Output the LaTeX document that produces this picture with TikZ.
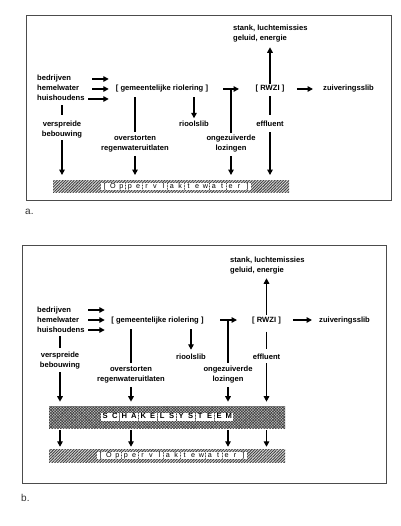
\documentclass[tikz,border=0pt]{standalone}
\usepackage{fontspec}
\setmainfont{Liberation Sans}
\usetikzlibrary{arrows.meta,patterns.meta}
\newcommand\labf{\fontsize{7.6}{10}\selectfont\bfseries}
\makeatletter
\newcommand\spellout[2]{\def\sp@w{#1}\sp@loop#2\@nil}
\def\sp@loop#1{\ifx#1\@nil\else\hbox{\fboxsep=0.6pt\colorbox{white}{\makebox[\sp@w]{\vphantom{Op}#1}}}\hskip0.3pt\expandafter\sp@loop\fi}
\makeatother
\tikzset{
  lbl/.style={font=\labf, inner sep=0pt, text height=5.5pt, text depth=1.5pt},
  lbltwo/.style={font=\labf, inner sep=0pt, align=center},
  arr/.style={line width=1.4pt, -{Triangle[length=5.5pt,width=5.5pt]}},
  ln/.style={line width=1.4pt},
  frm/.style={draw=black!70, line width=0.8pt},
  captxt/.style={font=\fontsize{10}{12}\selectfont, text=black!80, inner sep=0pt},
  oppbar/.style={minimum width=236pt, minimum height=12pt, inner sep=0pt,
    preaction={fill=gray!25},
    pattern={Lines[angle=45,distance=2pt,line width=0.9pt]}, pattern color=black!75,
    font=\fontsize{7.2}{8}\selectfont},
  schbar/.style={minimum width=236pt, minimum height=22pt, inner sep=0pt,
    preaction={fill=gray!45},
    pattern={Hatch[angle=45,distance=2pt,line width=0.6pt]}, pattern color=black!75,
    font=\fontsize{7.6}{8}\selectfont\bfseries}
}
\begin{document}
\begin{tikzpicture}[x=1pt,y=-1pt]
\useasboundingbox[fill=white] (0,0) rectangle (400,526);

% ---------------- panel a ----------------
\draw[frm] (26,15) rectangle (391,200);
\node[captxt, anchor=west] (a-cap) at (25,212) {a.};
\node[lbltwo, anchor=west, align=left] (a-emis) at (233,34) {stank, luchtemissies\\geluid, energie};
\node[lbl, anchor=west] (a-bed) at (37,79) {bedrijven};
\node[lbl, anchor=west] (a-hem) at (37,89) {hemelwater};
\node[lbl, anchor=west] (a-huis) at (37,99) {huishoudens};
\node[lbl] (a-riol) at (162,89) {[ gemeentelijke riolering ]};
\node[lbl] (a-rwzi) at (270,89) {[ RWZI ]};
\node[lbl, anchor=west] (a-zuiv) at (323,89) {zuiveringsslib};
\node[lbltwo] (a-versp) at (62,130) {verspreide\\bebouwing};
\node[lbltwo] (a-over) at (135,143.5) {overstorten\\regenwateruitlaten};
\node[lbl] (a-slib) at (194,125) {rioolslib};
\node[lbltwo] (a-ongez) at (231,143.5) {ongezuiverde\\lozingen};
\node[lbl] (a-eff) at (270,125) {effluent};
\node[oppbar] (a-opp) at (171,186.5) {\hspace{10pt}\spellout{6.9pt}{[Oppervlaktewater]}};
\coordinate (a-inx) at (92,0);
\coordinate (a-inx2) at (88,0);
\coordinate (a-j) at (231,89);

\draw[arr, shorten >=7pt] (a-bed.east -| a-inx) -- (a-bed.east -| a-riol.west);
\draw[arr, shorten >=7pt] (a-hem.east -| a-inx) -- (a-hem.east -| a-riol.west);
\draw[arr, shorten >=7pt] (a-huis.east -| a-inx2) -- (a-huis.east -| a-riol.west);
\draw[arr, shorten <=15pt, shorten >=16.5pt] (a-riol.east) -- (a-rwzi.west);
\draw[ln, shorten <=2pt] (a-ongez.north) -- (a-j);
\draw[arr, shorten <=12.5pt, shorten >=10pt] (a-rwzi.east) -- (a-zuiv.west);
\draw[arr, shorten <=1pt, shorten >=4.5pt] (a-rwzi.north) -- (a-rwzi.north |- a-emis.south);
\draw[ln, shorten <=3.5pt, shorten >=6.5pt] (a-rwzi.south) -- (a-eff.north);
\draw[arr, shorten <=3.5pt, shorten >=5pt] (a-eff.south) -- (a-eff.south |- a-opp.north);
\draw[arr, shorten <=4.5pt, shorten >=3pt] (a-slib.north |- a-riol.south) -- (a-slib.north);
\draw[ln, shorten <=4.5pt, shorten >=3pt] (a-over.north |- a-riol.south) -- (a-over.north);
\draw[arr, shorten <=4pt, shorten >=5pt] (a-over.south) -- (a-over.south |- a-opp.north);
\draw[arr, shorten <=4pt, shorten >=5pt] (a-ongez.south) -- (a-ongez.south |- a-opp.north);
\draw[ln, shorten <=2.5pt, shorten >=6.5pt] (a-versp.north |- a-huis.south) -- (a-versp.north);
\draw[arr, shorten <=1.5pt, shorten >=5pt] (a-versp.south) -- (a-versp.south |- a-opp.north);

% ---------------- panel b ----------------
\draw[frm] (22,245) rectangle (386,483);
\node[captxt, anchor=west] (b-cap) at (21,498) {b.};
\node[lbltwo, anchor=west, align=left] (b-emis) at (230,265.5) {stank, luchtemissies\\geluid, energie};
\node[lbl, anchor=west] (b-bed) at (37,310) {bedrijven};
\node[lbl, anchor=west] (b-hem) at (37,320) {hemelwater};
\node[lbl, anchor=west] (b-huis) at (37,330) {huishoudens};
\node[lbl] (b-riol) at (157.5,320) {[ gemeentelijke riolering ]};
\node[lbl] (b-rwzi) at (266.5,320) {[ RWZI ]};
\node[lbl, anchor=west] (b-zuiv) at (319,320) {zuiveringsslib};
\node[lbltwo] (b-versp) at (60,360.5) {verspreide\\bebouwing};
\node[lbltwo] (b-over) at (131,374.5) {overstorten\\regenwateruitlaten};
\node[lbl] (b-slib) at (191,357) {rioolslib};
\node[lbltwo] (b-ongez) at (228,374.5) {ongezuiverde\\lozingen};
\node[lbl] (b-eff) at (266.5,357) {effluent};
\node[schbar] (b-sch) at (167,417) {\spellout{8pt}{SCHAKELSYSTEEM}};
\node[oppbar, minimum height=13pt] (b-opp) at (167,455.5) {\hspace{10pt}\spellout{6.9pt}{[Oppervlaktewater]}};
\coordinate (b-inx) at (88,0);
\coordinate (b-j) at (228,320);

\draw[arr, shorten >=6.5pt] (b-bed.east -| b-inx) -- (b-bed.east -| b-riol.west);
\draw[arr, shorten >=6.5pt] (b-hem.east -| b-inx) -- (b-hem.east -| b-riol.west);
\draw[arr, shorten >=6.5pt] (b-huis.east -| b-inx) -- (b-huis.east -| b-riol.west);
\draw[arr, shorten <=16.5pt, shorten >=15pt] (b-riol.east) -- (b-rwzi.west);
\draw[ln, shorten <=3pt] (b-ongez.north) -- (b-j);
\draw[arr, shorten <=12pt, shorten >=7pt] (b-rwzi.east) -- (b-zuiv.west);
\draw[arr, shorten <=1.5pt, shorten >=4pt] (b-rwzi.north) -- (b-rwzi.north |- b-emis.south);
\draw[ln, shorten <=8pt, shorten >=4pt] (b-rwzi.south) -- (b-eff.north);
\draw[arr, shorten <=2.5pt, shorten >=4pt] (b-eff.south) -- (b-eff.south |- b-sch.north);
\draw[arr, shorten <=5.5pt, shorten >=3.5pt] (b-slib.north |- b-riol.south) -- (b-slib.north);
\draw[ln, shorten <=5.5pt, shorten >=3pt] (b-over.north |- b-riol.south) -- (b-over.north);
\draw[arr, shorten <=4pt, shorten >=4pt] (b-over.south) -- (b-over.south |- b-sch.north);
\draw[arr, shorten <=4pt, shorten >=4pt] (b-ongez.south) -- (b-ongez.south |- b-sch.north);
\draw[ln, shorten <=2.5pt, shorten >=4pt] (b-versp.north |- b-huis.south) -- (b-versp.north);
\draw[arr, shorten <=3pt, shorten >=4pt] (b-versp.south) -- (b-versp.south |- b-sch.north);
\foreach \n in {b-versp,b-over,b-ongez,b-eff}
  \draw[arr, shorten <=2pt, shorten >=2pt] (b-sch.south -| \n.south) -- (b-opp.north -| \n.south);
\end{tikzpicture}
\end{document}
